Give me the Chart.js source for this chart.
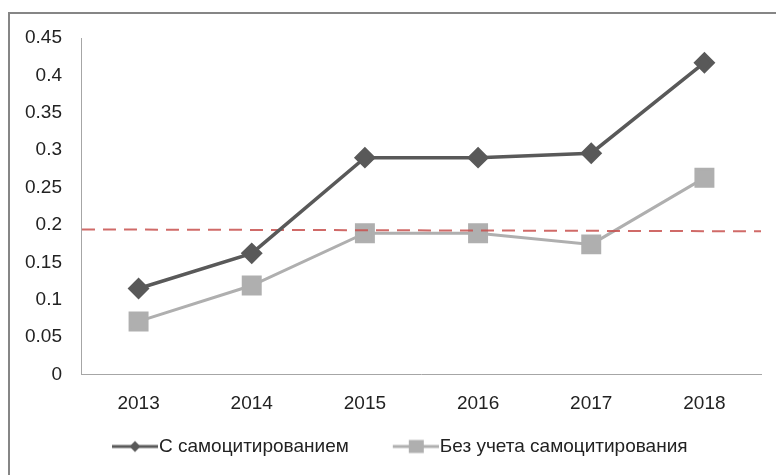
<!DOCTYPE html>
<html lang="ru">
<head>
<meta charset="UTF-8">
<title>Самоцитирование 2013-2018</title>
<script src="https://cdn.jsdelivr.net/npm/chart.js"></script>
<style>
    body { margin: 0; background: #fff; }
    #wrap { position: relative; width: 776px; height: 475px; overflow: hidden; }
    #frame { position: absolute; left: 8px; top: 12px; width: 820px; height: 520px; border: 2px solid #868686; }
    #box { position: absolute; left: 0; top: 0; width: 776px; height: 475px; }
</style>
</head>
<body>
<div id="wrap">
    <div id="frame"></div>
    <div id="box"><canvas id="chart"></canvas></div>
</div>
<script>
    // data
    const years = ['2013', '2014', '2015', '2016', '2017', '2018'];
    const withSelf = [0.115, 0.162, 0.290, 0.290, 0.296, 0.417];
    const withoutSelf = [0.071, 0.119, 0.189, 0.189, 0.174, 0.263];
    const threshold = [0.194, 0.1915]; // left end, right end of the red dashed line
    const yTickLabels = ['0', '0.05', '0.1', '0.15', '0.2', '0.25', '0.3', '0.35', '0.4', '0.45'];
    const seriesNames = ['С самоцитированием', 'Без учета самоцитирования'];

    const darkGray = '#595959';
    const lightGray = '#afafaf';

    Chart.defaults.font.family = '"Liberation Sans", Arial, sans-serif';
    Chart.defaults.font.size = 19;
    Chart.defaults.color = '#222';

    // legend box is 64px wide, the icon 81px: the visible line+marker sits in its right part
    // so it ends right before the text and leaves a gap on the left
    const legendBoxW = 64;
    function legendIcon(color, shape) {
        const c = document.createElement('canvas');
        c.width = legendBoxW + 17;
        c.height = 16;
        const g = c.getContext('2d');
        const x0 = c.width - 46, mid = c.width - 23;
        g.strokeStyle = color;
        g.fillStyle = color;
        g.lineWidth = 3;
        g.beginPath();
        g.moveTo(x0, 8);
        g.lineTo(c.width, 8);
        g.stroke();
        if (shape === 'diamond') {
            g.beginPath();
            g.moveTo(mid, 2.5);
            g.lineTo(mid + 5.5, 8);
            g.lineTo(mid, 13.5);
            g.lineTo(mid - 5.5, 8);
            g.closePath();
            g.fill();
        } else {
            g.fillRect(mid - 7, 1.5, 15, 13);
        }
        return c;
    }
    const icons = [legendIcon(darkGray, 'diamond'), legendIcon(lightGray, 'square')];

    new Chart(document.getElementById('chart'), {
        type: 'line',
        data: {
            labels: years,
            datasets: [{
                label: seriesNames[0],
                data: withSelf,
                borderColor: darkGray,
                backgroundColor: darkGray,
                borderWidth: 3.5,
                pointStyle: 'rectRot',
                pointRadius: 8.5,
                pointHoverRadius: 8.5,
                tension: 0
            }, {
                label: 'threshold',
                data: threshold.map((v, i) => ({ x: i, y: v })),
                xAxisID: 'x2',
                borderColor: 'rgba(200, 80, 77, 0.85)',
                borderDash: [13, 8],
                borderWidth: 2,
                pointRadius: 0,
                pointHoverRadius: 0
            }, {
                label: seriesNames[1],
                data: withoutSelf,
                borderColor: lightGray,
                backgroundColor: lightGray,
                borderWidth: 3,
                pointStyle: 'rect',
                pointRadius: 12,
                pointHoverRadius: 12,
                tension: 0
            }]
        },
        options: {
            responsive: true,
            maintainAspectRatio: false,
            animation: false,
            layout: {
                padding: { left: 5, right: 8, top: 38, bottom: 9 }
            },
            plugins: {
                tooltip: { enabled: false },
                legend: {
                    position: 'bottom',
                    labels: {
                        usePointStyle: true,
                        pointStyleWidth: legendBoxW,
                        padding: 17.5,
                        color: '#222',
                        filter: item => item.datasetIndex !== 1,
                        generateLabels: chart => {
                            const items = Chart.defaults.plugins.legend.labels.generateLabels(chart);
                            items.forEach(item => {
                                if (item.datasetIndex === 0) item.pointStyle = icons[0];
                                if (item.datasetIndex === 2) item.pointStyle = icons[1];
                            });
                            return items;
                        }
                    }
                }
            },
            scales: {
                x: {
                    type: 'category',
                    offset: true,
                    grid: { color: 'transparent', drawTicks: false },
                    border: { display: true, color: '#a6a6a6', width: 1 },
                    ticks: { padding: 18, color: '#222' },
                    afterFit: scale => { scale.height = 45; }
                },
                x2: {
                    type: 'linear',
                    display: false,
                    min: 0,
                    max: 1
                },
                y: {
                    min: 0,
                    max: 0.45,
                    grid: { color: 'transparent', drawTicks: false },
                    border: { display: true, color: '#a6a6a6', width: 1 },
                    ticks: {
                        stepSize: 0.05,
                        padding: 20,
                        color: '#222',
                        callback: (value, index) => yTickLabels[index]
                    }
                }
            }
        }
    });
</script>
</body>
</html>
